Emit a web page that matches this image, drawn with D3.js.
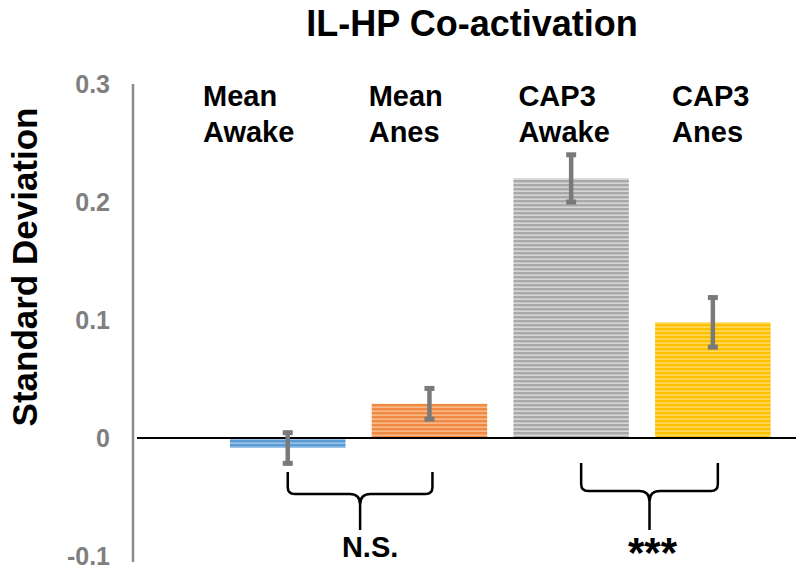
<!DOCTYPE html>
<html><head><meta charset="utf-8">
<script src="https://cdn.jsdelivr.net/npm/d3@7/dist/d3.min.js"></script>
<style>body{margin:0;background:#fff}svg{display:block}text{font-family:"Liberation Sans",Arial,sans-serif;font-weight:bold}</style>
</head><body><svg id="c" width="800" height="575"></svg>
<script>
const categories = ["Mean Awake", "Mean Anes", "CAP3 Awake", "CAP3 Anes"];
const labelLines = [["Mean","Awake"],["Mean","Anes"],["CAP3","Awake"],["CAP3","Anes"]];
const values = [-0.0085, 0.029, 0.22, 0.098];
const errors = [0.013, 0.013, 0.02, 0.021];
const yTicks = [-0.1, 0, 0.1, 0.2, 0.3];
const tickLabels = ["-0.1", "0", "0.1", "0.2", "0.3"];
const comparisons = [{a:0, b:1, label:"N.S."}, {a:2, b:3, label:"***"}];
const title = "IL-HP Co-activation";
const yTitle = "Standard Deviation";

const darkCols = ["#5b9bd5", "#f08a42", "#a9a9a9", "#ffc000"];
const lightCols = ["#9cc2e8", "#f8b98a", "#d6d6d6", "#ffd95e"];

const svg = d3.select("#c");
const y = d3.scaleLinear().domain([-0.1, 0.3]).range([556, 84]);
const x = d3.scaleBand().domain(categories).range([216.9, 783.7]).paddingInner(0.185).paddingOuter(0.0925);

const defs = svg.append("defs");
categories.forEach((c,i)=>{
  const p = defs.append("pattern").attr("id","pat"+i).attr("patternUnits","userSpaceOnUse")
    .attr("width",8).attr("height",4);
  p.append("rect").attr("width",8).attr("height",4).attr("fill",lightCols[i]);
  p.append("rect").attr("y",0).attr("width",8).attr("height",2.4).attr("fill",darkCols[i]);
});

// title
svg.append("text").attr("x",472).attr("y",36).attr("text-anchor","middle").attr("font-size",36).attr("fill","#000").text(title);
// y title
svg.append("text").attr("transform","translate(37,267) rotate(-90)").attr("text-anchor","middle").attr("font-size",35).attr("fill","#000").text(yTitle);

// y axis
const yAxis = d3.axisLeft(y).tickValues(yTicks).tickSize(0).tickPadding(0).tickFormat((d,i)=>tickLabels[i]);
const ga = svg.append("g").attr("transform","translate(133,0)").call(yAxis);
ga.select(".domain").remove();
ga.append("line").attr("x1",0).attr("x2",0).attr("y1",84).attr("y2",562).attr("stroke","#8a8a8a").attr("stroke-width",2.5);
ga.selectAll(".tick text").attr("x",-23).attr("font-size",25).attr("fill","#7f7f7f")
  .attr("font-family","Liberation Sans, Arial, sans-serif").attr("font-weight","bold");

// bars
svg.selectAll("rect.bar").data(values).enter().append("rect").attr("class","bar")
  .attr("x",(d,i)=>x(categories[i])).attr("width",x.bandwidth())
  .attr("y",d=>y(Math.max(0,d))).attr("height",d=>Math.abs(y(d)-y(0)))
  .attr("fill",(d,i)=>"url(#pat"+i+")");

// zero line
svg.append("line").attr("x1",137).attr("x2",796).attr("y1",y(0)).attr("y2",y(0)).attr("stroke","#000").attr("stroke-width",2.2);

// error bars
const eb = svg.selectAll("g.err").data(values).enter().append("g").attr("class","err");
eb.append("line").attr("x1",(d,i)=>x(categories[i])+x.bandwidth()/2).attr("x2",(d,i)=>x(categories[i])+x.bandwidth()/2)
  .attr("y1",(d,i)=>y(d+errors[i])).attr("y2",(d,i)=>y(d-errors[i])).attr("stroke","#7a7a7a").attr("stroke-width",4.5);
[1,-1].forEach(s=>{
  eb.append("rect").attr("x",(d,i)=>x(categories[i])+x.bandwidth()/2-5).attr("width",10)
    .attr("y",(d,i)=>y(d+s*errors[i])-2.5).attr("height",5).attr("fill","#7a7a7a");
});

// category labels (left-aligned text boxes)
const labelDx = [-27, -3, 5, 17];
labelLines.forEach((lines,i)=>{
  const t = svg.append("text").attr("font-size",29).attr("fill","#000");
  lines.forEach((ln,j)=>t.append("tspan").attr("x",x(categories[i])+labelDx[i]).attr("y",106+j*36).text(ln));
});

// braces
const braceTops = [472, 463], braceH = [494, 491];
comparisons.forEach((c,k)=>{
  const l = x(categories[c.a])+x.bandwidth()/2;
  const r = x(categories[c.b])+x.bandwidth()/2 + (k==1?5:3);
  const lx = l + (k==1? 10:0);
  const m = (lx+r)/2, t = braceTops[k], h = braceH[k], b = 530, rr = 7;
  const path = `M${lx},${t} L${lx},${h-rr} Q${lx},${h} ${lx+rr},${h} L${m-rr*1.5},${h} Q${m},${h} ${m},${h+rr*1.5} L${m},${b}
    M${r},${t} L${r},${h-rr} Q${r},${h} ${r-rr},${h} L${m+rr*1.5},${h} Q${m},${h} ${m},${h+rr*1.5}`;
  svg.append("path").attr("d",path).attr("fill","none").attr("stroke","#000").attr("stroke-width",2.5);
  if (k==0) svg.append("text").attr("x",m+10).attr("y",557).attr("text-anchor","middle").attr("font-size",29).text(c.label);
  else svg.append("text").attr("x",m+3).attr("y",567).attr("text-anchor","middle").attr("font-size",42).text(c.label);
});
</script></body></html>
